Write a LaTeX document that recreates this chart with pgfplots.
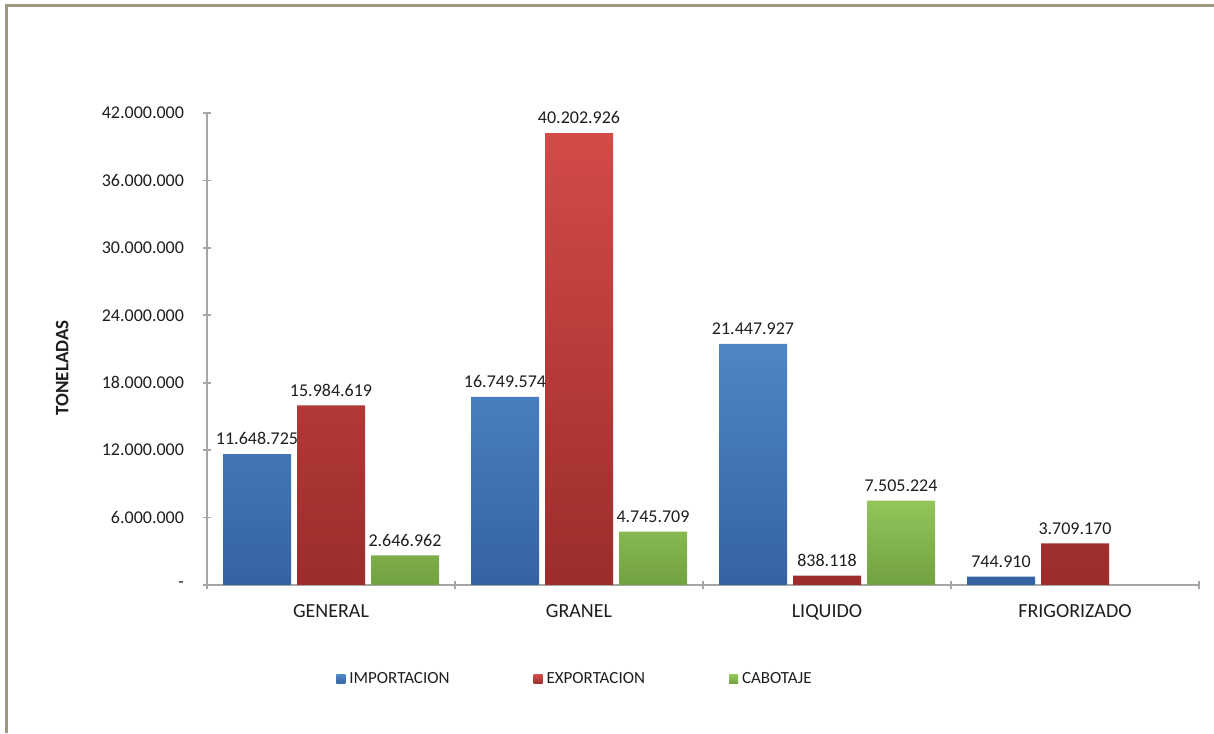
\documentclass[border=0pt]{standalone}
\usepackage{pgfplots}
\pgfplotsset{compat=1.18}
\usepackage{fontspec}
\setmainfont{Carlito}

\definecolor{impTop}{HTML}{4F86C6}
\definecolor{impBot}{HTML}{3562A3}
\definecolor{expTop}{HTML}{D24B47}
\definecolor{expBot}{HTML}{9B2D2B}
\definecolor{cabTop}{HTML}{93C55B}
\definecolor{cabBot}{HTML}{72A140}
\definecolor{axisgray}{HTML}{A6A6A6}
\definecolor{framec}{HTML}{9E9880}
\definecolor{txt}{HTML}{1E1E1E}

\begin{document}
\begin{tikzpicture}
\path[use as bounding box] (0pt,0pt) rectangle (607pt,366.5pt);
% frame (only top and left edges are visible)
\draw[framec, line width=1.5pt] (3pt,0pt) -- (3pt,363.5pt) -- (607pt,363.5pt);

\begin{axis}[
  at={(103.5pt,74pt)}, anchor=south west,
  scale only axis, width=496pt, height=236pt,
  clip=false,
  ybar=3pt, bar width=34pt,
  xmin=-0.5, xmax=3.5, ymin=0, ymax=42000000,
  scaled y ticks=false,
  axis lines*=left,
  axis line style={draw=axisgray, line width=0.8pt},
  every tick/.style={draw=axisgray, line width=0.8pt},
  tick align=center, major tick length=4pt,
  xtick={-0.5,0.5,1.5,2.5,3.5}, xticklabels={},
  extra x ticks={0,1,2,3},
  extra x tick labels={GENERAL,GRANEL,LIQUIDO,FRIGORIZADO},
  extra x tick style={major tick length=0pt,
    ticklabel style={font=\fontsize{10}{12}\selectfont, text=txt, yshift=-6pt}},
  ytick={0,6000000,12000000,18000000,24000000,30000000,36000000,42000000},
  yticklabels={-,6.000.000,12.000.000,18.000.000,24.000.000,30.000.000,36.000.000,42.000.000},
  yticklabel style={font=\fontsize{9}{11}\selectfont, text=txt, xshift=-6pt},
  point meta=explicit symbolic,
  nodes near coords,
  every node near coord/.append style={font=\fontsize{9}{11}\selectfont, text=txt, yshift=1pt},
  legend style={at={(0.372,-0.2)}, anchor=center, draw=none, fill=none,
    font=\fontsize{8.5}{10}\selectfont, text=txt,
    legend columns=3,
    /tikz/every even column/.append style={column sep=40pt}},
  legend image code/.code={\path[#1] (0pt,-2.25pt) rectangle (4.5pt,2.25pt);},
]
\addplot[draw=none, top color=impTop, bottom color=impBot] coordinates {
  (0,11648725) [11.648.725]
  (1,16749574) [16.749.574]
  (2,21447927) [21.447.927]
  (3,744910)   [744.910]
};
\addplot[draw=none, top color=expTop, bottom color=expBot] coordinates {
  (0,15984619) [15.984.619]
  (1,40202926) [40.202.926]
  (2,838118)   [838.118]
  (3,3709170)  [3.709.170]
};
\addplot[draw=none, top color=cabTop, bottom color=cabBot] coordinates {
  (0,2646962) [2.646.962]
  (1,4745709) [4.745.709]
  (2,7505224) [7.505.224]
};
\legend{IMPORTACION,EXPORTACION,CABOTAJE}
\node[rotate=90, font=\bfseries\fontsize{9.5}{11}\selectfont, text=txt]
  at (rel axis cs:-0.146,0.46) {TONELADAS};
\end{axis}
\end{tikzpicture}
\end{document}
